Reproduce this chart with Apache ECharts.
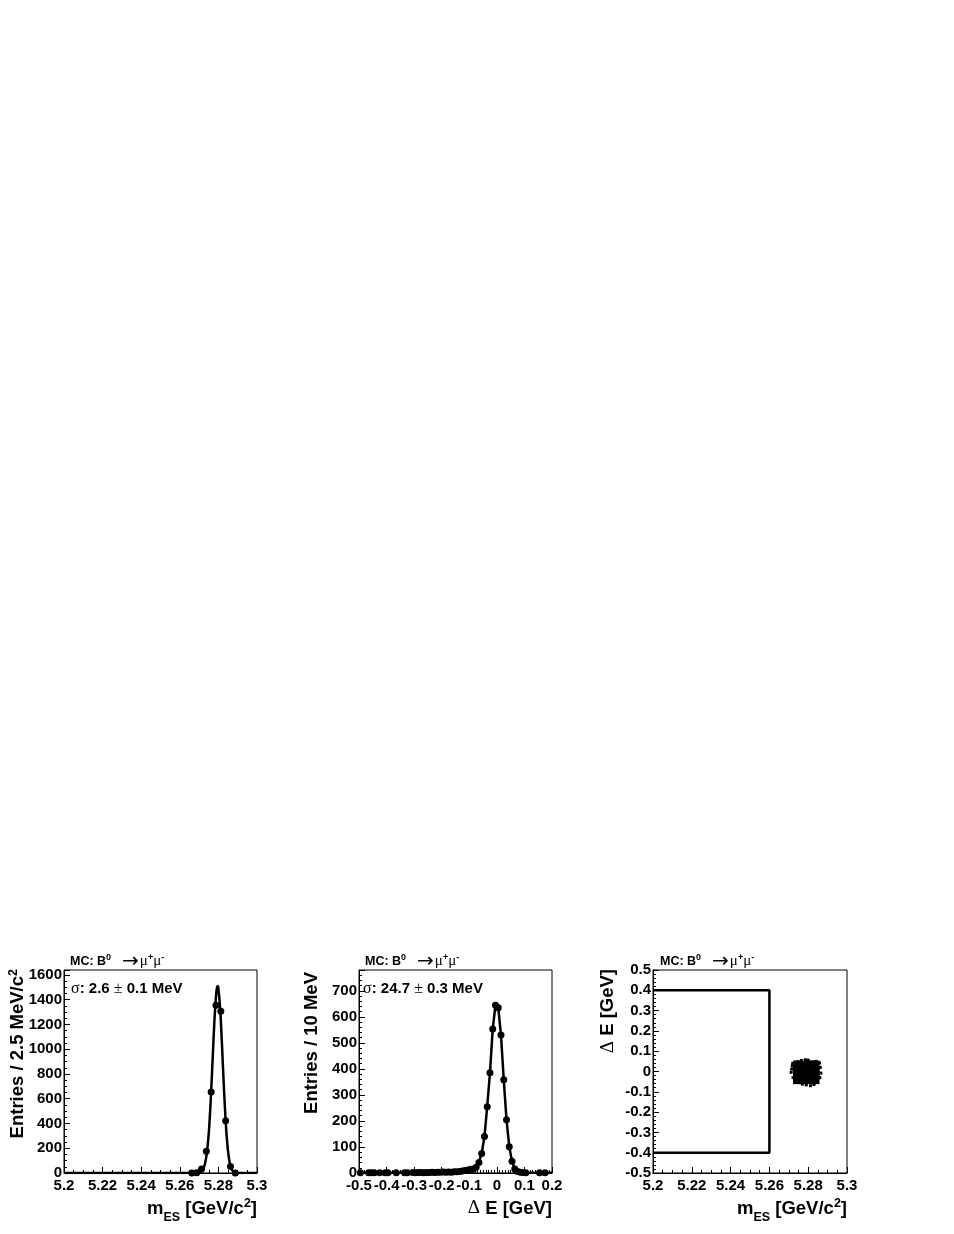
<!DOCTYPE html>
<html>
<head>
<meta charset="utf-8">
<script src="https://cdn.jsdelivr.net/npm/echarts@6/dist/echarts.min.js"></script>
<style>
html,body{margin:0;padding:0;background:#fff;}
#c{width:954px;height:1234px;}
</style>
</head>
<body>
<div id="c"></div>
<script>
// ---- Panel 1: mES distribution (2.5 MeV bins) ----
const mesBinCenters = [5.26625, 5.26875, 5.27125, 5.27375, 5.27625, 5.27875, 5.28125, 5.28375, 5.28625, 5.28875];
const mesCounts     = [0, 3, 32, 176, 654, 1356, 1306, 423, 52, 0];
const mesFitX = [5.2, 5.265, 5.268, 5.270, 5.271, 5.272, 5.273, 5.274, 5.275, 5.276, 5.277, 5.278, 5.279, 5.2796, 5.280, 5.281, 5.282, 5.283, 5.284, 5.285, 5.286, 5.287, 5.288, 5.289, 5.291, 5.3];
const mesFitY = [0, 0, 0, 3, 8, 28, 72, 160, 320, 580, 916, 1249, 1470, 1510, 1492, 1306, 986, 642, 361, 175, 73, 26, 8, 2, 0, 0];

// ---- Panel 2: Delta E distribution (10 MeV bins) ----
const deBinCenters = [-0.495, -0.465, -0.455, -0.445, -0.425, -0.405, -0.395, -0.365, -0.335, -0.325, -0.305, -0.295, -0.285, -0.275, -0.265, -0.255, -0.245, -0.235, -0.225, -0.215, -0.205, -0.195, -0.185, -0.175, -0.165, -0.155, -0.145, -0.135, -0.125, -0.115, -0.105, -0.095, -0.085, -0.075, -0.065, -0.055, -0.045, -0.035, -0.025, -0.015, -0.005, 0.005, 0.015, 0.025, 0.035, 0.045, 0.055, 0.065, 0.075, 0.085, 0.095, 0.105, 0.155, 0.175];
const deCounts     = [1, 1, 1, 1, 1, 1, 1, 1, 1, 1, 2, 1, 2, 2, 1, 2, 2, 3, 2, 3, 3, 4, 3, 4, 3, 5, 5, 6, 8, 10, 12, 14, 15, 22, 40, 75, 140, 255, 385, 553, 645, 635, 530, 358, 205, 101, 45, 15, 6, 3, 2, 1, 1, 1];
const deFitX = [-0.5, -0.3, -0.2, -0.15, -0.125, -0.105, -0.095, -0.085, -0.075, -0.065, -0.055, -0.045, -0.035, -0.025, -0.015, -0.005, 0.005, 0.015, 0.025, 0.035, 0.045, 0.055, 0.065, 0.075, 0.085, 0.1, 0.2];
const deFitY = [0.5, 1, 2, 4, 7, 11, 14, 17, 25, 42, 75, 140, 255, 385, 553, 645, 635, 530, 358, 205, 101, 45, 15, 6, 3, 1, 0.5];

// ---- Panel 3: mES vs Delta E ----
const boxX = [5.2, 5.26, 5.26, 5.2];
const boxY = [0.4, 0.4, -0.4, -0.4];
const blobCoreX = [5.2745, 5.2775, 5.2805, 5.2835, 5.2745, 5.2775, 5.2805, 5.2835, 5.2745, 5.2775, 5.2805, 5.2835, 5.2745, 5.2775, 5.2805, 5.2835, 5.2745, 5.2775, 5.2805, 5.2835];
const blobCoreY = [-0.04, -0.04, -0.04, -0.04, -0.02, -0.02, -0.02, -0.02, 0, 0, 0, 0, 0.02, 0.02, 0.02, 0.02, 0.032, 0.032, 0.032, 0.032];
const blobHaloX = [5.2715, 5.2712, 5.2718, 5.2722, 5.2720, 5.2862, 5.2865, 5.2860, 5.2858, 5.2790, 5.2812, 5.2770, 5.2830, 5.2785, 5.2765, 5.2800, 5.2745, 5.2840];
const blobHaloY = [0.012, -0.004, 0.028, -0.030, 0.040, 0.020, -0.008, -0.030, 0.042, -0.066, -0.070, -0.062, -0.064, 0.058, 0.054, 0.056, 0.048, 0.050];

// ---- Text ----
const titleParts = ['MC: B', '0', '\u2192', '\u03bc', '+', '\u03bc', '-'];
const sigmaValues = [['2.6', '0.1'], ['24.7', '0.3']];
const yTitleTexts = ['Entries / 2.5 MeV/c', 'Entries / 10 MeV', ' E [GeV]'];

const zip = (a, b) => a.map((v, i) => [v, b[i]]);
const SANS = '"Liberation Sans", Arial, sans-serif';
const SERIF = '"Liberation Serif", "DejaVu Serif", serif';
const ARROW = '"DejaVu Sans", sans-serif';
const fmt = v => String(Math.round(v * 1000) / 1000);
const LBL = { color: '#000', fontFamily: 'Liberation Sans', fontWeight: 'bold', fontSize: 15, formatter: fmt };

// text composition helper (baseline-aligned pieces, superscripts/subscripts via dy)
const mctx = document.createElement('canvas').getContext('2d');
function P(t, fam, size, bold, dy, gap) {
  return { t: t, size: size, font: (bold ? 'bold ' : '') + size + 'px ' + fam, dy: dy || 0, gap: gap || 0 };
}
function textLine(pieces, X, Y, align, rotation) {
  const widths = pieces.map(p => { mctx.font = p.font; return mctx.measureText(p.t).width; });
  const total = pieces.reduce((s, p, i) => s + p.gap + widths[i], 0);
  let cx = align === 'right' ? -total : 0;
  const children = [];
  pieces.forEach((p, i) => {
    cx += p.gap;
    children.push({ type: 'text', x: cx, y: p.dy - 0.345 * p.size, style: { text: p.t, font: p.font, fill: '#000', align: 'left', verticalAlign: 'middle' } });
    cx += widths[i];
  });
  return { type: 'group', x: X, y: Y, rotation: rotation || 0, z: 10, children: children };
}

function axisCommon(extra, minorSplit, lblExtra) {
  return Object.assign({
    type: 'value',
    axisLine: { show: true, onZero: false, lineStyle: { color: '#000', width: 1 } },
    axisTick: { show: true, inside: true, length: 6, lineStyle: { color: '#000', width: 1 } },
    minorTick: { show: true, splitNumber: minorSplit, length: 3, lineStyle: { color: '#000', width: 1 } },
    splitLine: { show: false },
    axisLabel: Object.assign({}, LBL, lblExtra)
  }, extra);
}

const grids = [
  { left: 64, top: 970, width: 193, height: 203 },
  { left: 359, top: 970, width: 193, height: 203 },
  { left: 653, top: 970, width: 194, height: 203 }
].map(g => Object.assign(g, { show: true, borderColor: '#000', borderWidth: 1, backgroundColor: 'transparent' }));

const xAxes = [
  axisCommon({ gridIndex: 0, min: 5.2, max: 5.3, interval: 0.02 }, 4, { margin: 5 }),
  axisCommon({ gridIndex: 1, min: -0.5, max: 0.2, interval: 0.1 }, 10, { margin: 5 }),
  axisCommon({ gridIndex: 2, min: 5.2, max: 5.3, interval: 0.02 }, 4, { margin: 5 })
];
const yAxes = [
  axisCommon({ gridIndex: 0, min: 0, max: 1640, interval: 200 }, 4, { margin: 2, showMaxLabel: false }),
  axisCommon({ gridIndex: 1, min: 0, max: 780, interval: 100 }, 5, { margin: 2, showMaxLabel: false }),
  axisCommon({ gridIndex: 2, min: -0.5, max: 0.5, interval: 0.1 }, 5, { margin: 2 })
];

const BLACK = { color: '#000', opacity: 1 };
const series = [
  { type: 'line', xAxisIndex: 0, yAxisIndex: 0, data: zip(mesFitX, mesFitY), showSymbol: false, smooth: 0.3, lineStyle: { color: '#000', width: 2.5 }, z: 3, silent: true },
  { type: 'scatter', xAxisIndex: 0, yAxisIndex: 0, data: zip(mesBinCenters, mesCounts), symbol: 'circle', symbolSize: 7, itemStyle: BLACK, z: 4 },
  { type: 'line', xAxisIndex: 1, yAxisIndex: 1, data: zip(deFitX, deFitY), showSymbol: false, smooth: false, lineStyle: { color: '#000', width: 2.5 }, z: 3, silent: true },
  { type: 'scatter', xAxisIndex: 1, yAxisIndex: 1, data: zip(deBinCenters, deCounts), symbol: 'circle', symbolSize: 7, itemStyle: BLACK, z: 4 },
  { type: 'line', xAxisIndex: 2, yAxisIndex: 2, data: zip(boxX, boxY), showSymbol: false, lineStyle: { color: '#000', width: 2.5 }, z: 3, silent: true },
  { type: 'scatter', xAxisIndex: 2, yAxisIndex: 2, data: zip(blobCoreX, blobCoreY), symbol: 'rect', symbolSize: 9, itemStyle: BLACK, z: 4 },
  { type: 'scatter', xAxisIndex: 2, yAxisIndex: 2, data: zip(blobHaloX, blobHaloY), symbol: 'rect', symbolSize: 3, itemStyle: BLACK, z: 4 }
];

const graphics = [];
// panel titles
[70, 365, 660].forEach(x => graphics.push(textLine([
  P(titleParts[0], SANS, 12.5, true),
  P(titleParts[1], SANS, 9, true, -5),
  P(titleParts[2], ARROW, 20, false, 2.5, 11),
  P(titleParts[3], SERIF, 15, false, 0, 1),
  P(titleParts[4], SANS, 9, true, -5),
  P(titleParts[5], SERIF, 15, false),
  P(titleParts[6], SANS, 9, true, -5)
], x, 966, 'left', 0)));
// sigma annotations
[71, 363].forEach((x, i) => graphics.push(textLine([
  P('\u03c3', SERIF, 16, false),
  P(': ' + sigmaValues[i][0] + ' ', SANS, 15, true),
  P('\u00b1', SERIF, 16, false),
  P(' ' + sigmaValues[i][1] + ' MeV', SANS, 15, true)
], x, 994.5, 'left', 0)));
// y-axis titles (rotated)
graphics.push(textLine([P(yTitleTexts[0], SANS, 18.5, true), P('2', SANS, 12.5, true, -7)], 24.5, 969, 'right', Math.PI / 2));
graphics.push(textLine([P(yTitleTexts[1], SANS, 18.5, true)], 318.5, 972, 'right', Math.PI / 2));
graphics.push(textLine([P('\u0394', SERIF, 19, false), P(yTitleTexts[2], SANS, 18.5, true)], 614.5, 969, 'right', Math.PI / 2));
// x-axis titles
[257, 847].forEach(x => graphics.push(textLine([
  P('m', SANS, 18.5, true), P('ES', SANS, 12.5, true, 7), P(' [GeV/c', SANS, 18.5, true), P('2', SANS, 12.5, true, -7), P(']', SANS, 18.5, true)
], x, 1215, 'right', 0)));
graphics.push(textLine([P('\u0394', SERIF, 19, false), P(' E [GeV]', SANS, 18.5, true)], 552, 1215, 'right', 0));

const chart = echarts.init(document.getElementById('c'), null, { renderer: 'canvas' });
chart.setOption({
  animation: false,
  backgroundColor: '#fff',
  grid: grids,
  xAxis: xAxes,
  yAxis: yAxes,
  series: series,
  graphic: graphics
});
</script>
</body>
</html>
